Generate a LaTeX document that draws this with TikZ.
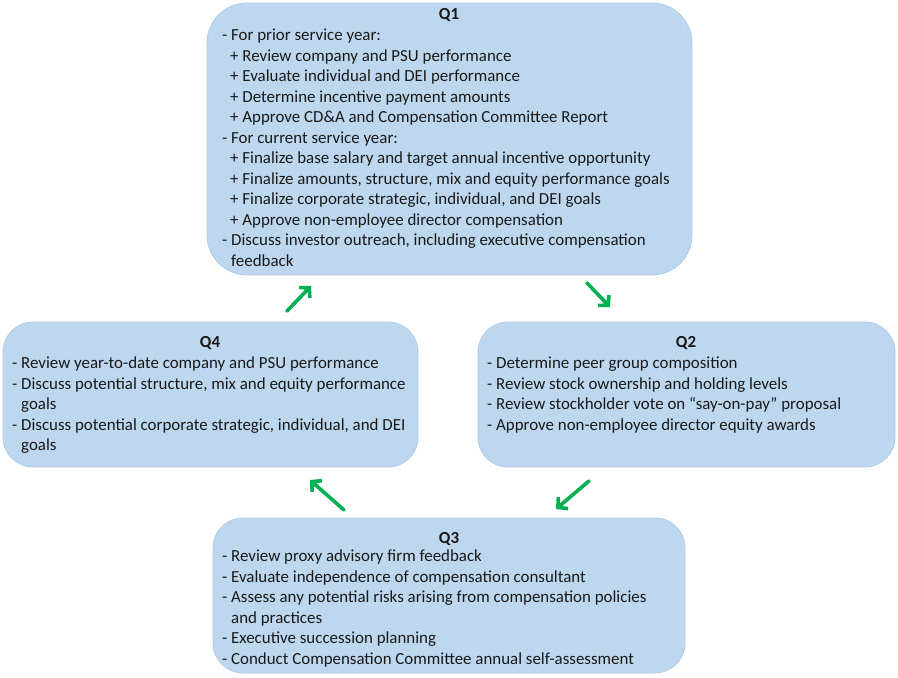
\documentclass[tikz,border=0pt]{standalone}
\usepackage{fontspec}
\setmainfont{Carlito}
\usetikzlibrary{arrows.meta}
\definecolor{qfill}{HTML}{BDD7EE}
\definecolor{qedge}{HTML}{B0CBE6}
\definecolor{cyclegreen}{HTML}{00B050}
\newcommand{\qfont}{\fontsize{16.9}{20.5}\selectfont}
\newcommand{\sub}{\hspace*{8pt}}
\newcommand{\cont}{\hspace*{9pt}}
\tikzset{qbox/.style={rectangle, draw=qedge, line width=0.8pt, fill=qfill, inner sep=0pt}}
\tikzset{qtitle/.style={font=\qfont\bfseries, text=black!90, inner sep=0pt}}
\tikzset{qbody/.style={anchor=north west, align=left, font=\qfont, text=black!90, inner sep=0pt}}
\tikzset{cycle/.style={-{Straight Barb[length=7pt, width=15pt]}, line width=3.6pt, line cap=round, color=cyclegreen}}

\begin{document}
\begin{tikzpicture}[x=1pt, y=1pt]
  \useasboundingbox (0,0) rectangle (898,-678);

  % --- Q1 ---
  \node[qbox, rounded corners=40pt, minimum width=485pt, minimum height=272pt] (q1) at (449.5,-139) {};
  \node[qtitle] (q1t) at (449,-15) {Q1};
  \node[qbody] (q1b) at (222,-29) {- For prior service year:\\
    \sub+ Review company and PSU performance\\
    \sub+ Evaluate individual and DEI performance\\
    \sub+ Determine incentive payment amounts\\
    \sub+ Approve CD\&A and Compensation Committee Report\\
    - For current service year:\\
    \sub+ Finalize base salary and target annual incentive opportunity\\
    \sub+ Finalize amounts, structure, mix and equity performance goals\\
    \sub+ Finalize corporate strategic, individual, and DEI goals\\
    \sub+ Approve non-employee director compensation\\
    - Discuss investor outreach, including executive compensation\\
    \cont feedback};

  % --- Q2 ---
  \node[qbox, rounded corners=30pt, minimum width=417pt, minimum height=145pt] (q2) at (686.5,-394.5) {};
  \node[qtitle] (q2t) at (686,-343) {Q2};
  \node[qbody] (q2b) at (487,-357) {- Determine peer group composition\\
    - Review stock ownership and holding levels\\
    - Review stockholder vote on “say-on-pay” proposal\\
    - Approve non-employee director equity awards};

  % --- Q3 ---
  \node[qbox, rounded corners=30pt, minimum width=472pt, minimum height=155pt] (q3) at (449,-595.5) {};
  \node[qtitle] (q3t) at (449,-539) {Q3};
  \node[qbody] (q3b) at (222,-550) {- Review proxy advisory firm feedback\\
    - Evaluate independence of compensation consultant\\
    - Assess any potential risks arising from compensation policies\\
    \cont and practices\\
    - Executive succession planning\\
    - Conduct Compensation Committee annual self-assessment};

  % --- Q4 ---
  \node[qbox, rounded corners=30pt, minimum width=415pt, minimum height=145pt] (q4) at (210.5,-394.5) {};
  \node[qtitle] (q4t) at (210,-343) {Q4};
  \node[qbody] (q4b) at (12,-357) {- Review year-to-date company and PSU performance\\
    - Discuss potential structure, mix and equity performance\\
    \cont goals\\
    - Discuss potential corporate strategic, individual, and DEI\\
    \cont goals};

  % --- cycle arrows ---
  \coordinate (a12s) at (587,-283);
  \coordinate (a12e) at (610,-307);
  \coordinate (a23s) at (589,-481);
  \coordinate (a23e) at (556,-509);
  \coordinate (a34s) at (344,-510);
  \coordinate (a34e) at (310,-480);
  \coordinate (a41s) at (287,-311);
  \coordinate (a41e) at (311,-286);
  \draw[cycle] (a12s) -- (a12e);
  \draw[cycle] (a23s) -- (a23e);
  \draw[cycle] (a34s) -- (a34e);
  \draw[cycle] (a41s) -- (a41e);

\end{tikzpicture}
\end{document}
